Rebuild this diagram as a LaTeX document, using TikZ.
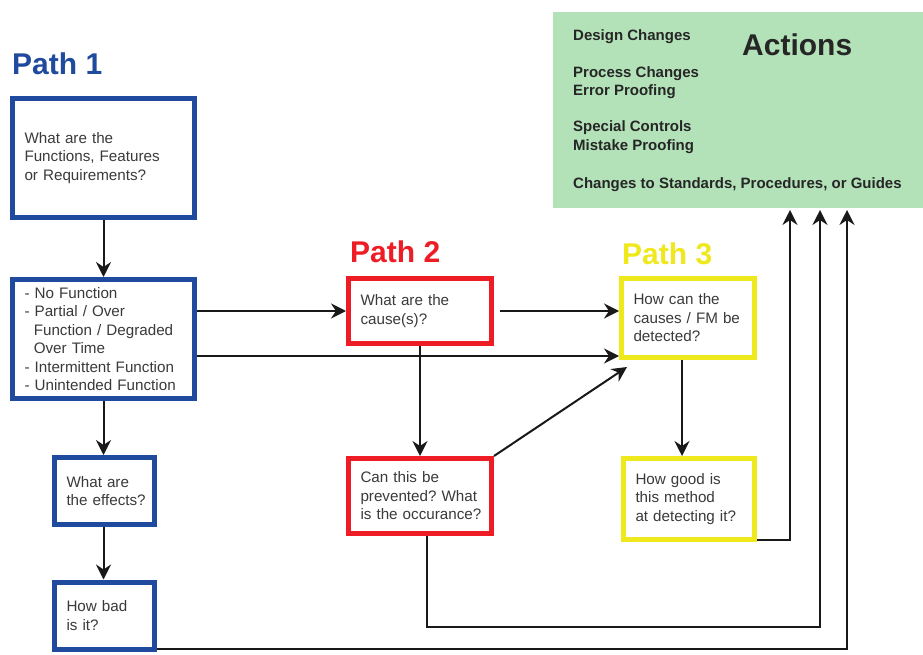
\documentclass[tikz,border=0pt]{standalone}
\usepackage{fontspec}
\setmainfont{Liberation Sans}
\usetikzlibrary{arrows.meta,calc}
\definecolor{pblue}{HTML}{1F4A9E}
\definecolor{pred}{HTML}{EE1D25}
\definecolor{pyel}{HTML}{EFE81C}
\definecolor{agreen}{HTML}{B3E2B9}
\definecolor{txtgray}{HTML}{3A3A3A}
\hyphenpenalty=10000
\exhyphenpenalty=10000
\newcommand\boxfont{\fontsize{15.2}{18.5}\selectfont\hyphenpenalty=10000\relax}
\newcommand\actfont{\fontsize{15}{18}\selectfont\bfseries}
\newcommand\titlefont{\fontsize{30}{36}\selectfont\bfseries}
\begin{document}
\begin{tikzpicture}[x=1pt,y=-1pt,
  fbox/.style={draw, line width=5pt, fill=white, align=left, inner xsep=12pt, inner ysep=0pt, font=\boxfont, text=txtgray},
  arr/.style={line width=2pt, draw=black!90, -{Stealth[length=15pt,width=15pt,inset=5pt]}},
  ptitle/.style={anchor=base west, inner sep=0pt, font=\titlefont},
  aitem/.style={anchor=base west, inner sep=0pt, font=\actfont, text=black!85}]
\useasboundingbox (0,0) rectangle (923,655);
\fill[white] (0,0) rectangle (923,655);

% Actions box
\node[fill=agreen, minimum width=370pt, minimum height=196pt, inner sep=0pt, outer sep=0pt] (Act) at (738,110) {};
\node[ptitle, text=black!85] (acttitle) at (742,56) {Actions};
\node[aitem] (a1) at (573,41) {Design Changes};
\node[aitem] (a2) at (573,78) {Process Changes};
\node[aitem] (a3) at (573,96) {Error Proofing};
\node[aitem] (a4) at (573,132) {Special Controls};
\node[aitem] (a5) at (573,151) {Mistake Proofing};
\node[aitem] (a6) at (573,189) {Changes to Standards, Procedures, or Guides};

% titles
\node[ptitle, text=pblue] (t1) at (12,75) {Path 1};
\node[ptitle, text=pred] (t2) at (350,262) {Path 2};
\node[ptitle, text=pyel] (t3) at (622,264) {Path 3};

% Path 1 boxes
\node[fbox, draw=pblue, text width=158pt, minimum height=119pt] (A) at (103.5,158)
  {What~are~the\\Functions,~Features\\or~Requirements?};
\node[fbox, draw=pblue, text width=158pt, minimum height=119pt] (B) at (103.5,339)
  {-~No~Function\\-~Partial~/~Over\\\hspace*{9.3pt}Function~/~Degraded\\\hspace*{9.3pt}Over~Time\\-~Intermittent~Function\\-~Unintended~Function};
\node[fbox, draw=pblue, text width=76pt, minimum height=67pt] (C) at (104.5,491)
  {What~are\\the~effects?};
\node[fbox, draw=pblue, text width=76pt, minimum height=67pt] (D) at (104.5,615.5)
  {How~bad\\is~it?};

% Path 2 boxes
\node[fbox, draw=pred, text width=119pt, minimum height=65pt] (E) at (420,311)
  {What~are~the\\cause(s)?};
\node[fbox, draw=pred, text width=119pt, minimum height=75pt] (F) at (420,496)
  {Can~this~be\\prevented?~What\\is~the~occurance?};

% Path 3 boxes
\node[fbox, draw=pyel, text width=109pt, minimum height=79pt] (G) at (688,318)
  {How~can~the\\causes~/~FM~be\\detected?};
\node[fbox, draw=pyel, text width=107pt, minimum height=81pt] (H) at (689,499)
  {How~good~is\\this~method\\at~detecting~it?};

% helper coordinates
\coordinate (gy) at (0,356);
\coordinate (gx) at (682,0);
\coordinate (h1) at (790,540);
\coordinate (f1) at (427,627);
\coordinate (f2) at (820,627);
\coordinate (d1) at (847,649);

% connectors
\draw[arr] (A.south) -- (B.north);
\draw[arr] (B.south) -- (B.south |- C.north);
\draw[arr] (B.south |- C.south) -- (B.south |- D.north);
\draw[arr] (B.east |- E.west) -- (E.west);
\draw[arr] (B.east |- gy) -- (G.west |- gy);
\draw[arr, shorten <=6pt] (E.east) -- (G.west |- E.east);
\draw[arr] (E.south) -- (F.north);
\draw[arr] (F.north east) -- ($(G.south west)+(8,7)$);
\draw[arr] (G.south -| gx) -- (H.north -| gx);
\draw[arr, shorten >=2pt] (H.east |- h1) -- (h1) -- (h1 |- Act.south);
\draw[arr, shorten >=2pt] (F.south -| f1) -- (f1) -- (f2) -- (f2 |- Act.south);
\draw[arr, shorten >=2pt] (D.east |- d1) -- (d1) -- (d1 |- Act.south);
\end{tikzpicture}
\end{document}
